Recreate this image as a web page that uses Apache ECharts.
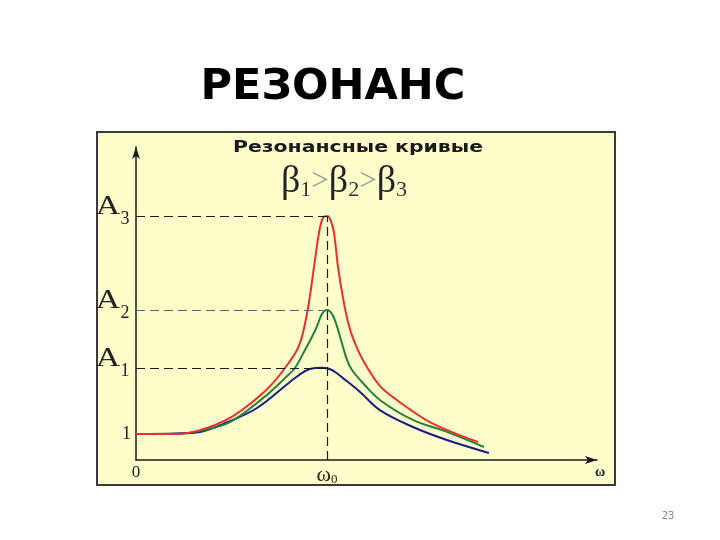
<!DOCTYPE html>
<html>
<head>
<meta charset="utf-8">
<script src="https://cdn.jsdelivr.net/npm/echarts@6.0.0/dist/echarts.min.js"></script>
<style>
  html, body { margin: 0; background: #fff; }
  #chart { width: 720px; height: 540px; }
</style>
</head>
<body>
<div id="chart"></div>
<script>
// resonance curves, omega in units of omega0, amplitude in units of static amplitude
const redOmega = [0, 0.204, 0.335, 0.492, 0.634, 0.712, 0.780, 0.843, 0.874, 0.906, 0.932, 0.958, 0.974, 0.990, 1.005, 1.021, 1.037, 1.058, 1.084, 1.110, 1.136, 1.188, 1.277, 1.366, 1.539, 1.791]
const redAmp = [1.00, 1.00, 1.15, 1.62, 2.38, 2.92, 3.54, 4.23, 4.88, 6.08, 7.42, 8.73, 9.23, 9.38, 9.38, 9.19, 8.73, 7.42, 6.23, 5.31, 4.69, 3.85, 2.85, 2.31, 1.46, 0.69]

const greenOmega = [0, 0.204, 0.335, 0.492, 0.665, 0.780, 0.832, 0.885, 0.921, 0.948, 0.974, 1.0, 1.026, 1.052, 1.073, 1.105, 1.131, 1.188, 1.277, 1.450, 1.628, 1.822]
const greenAmp = [1.00, 1.00, 1.12, 1.46, 2.38, 3.15, 3.54, 4.23, 4.73, 5.15, 5.62, 5.77, 5.62, 5.15, 4.62, 3.85, 3.46, 2.96, 2.31, 1.54, 1.08, 0.50]

const blueOmega = [0, 0.204, 0.335, 0.455, 0.634, 0.806, 0.885, 0.937, 0.974, 1.005, 1.040, 1.084, 1.173, 1.277, 1.450, 1.628, 1.848]
const blueAmp = [1.00, 1.02, 1.08, 1.38, 2.00, 3.00, 3.42, 3.54, 3.55, 3.52, 3.40, 3.15, 2.62, 1.92, 1.27, 0.77, 0.27]

// A1, A2, A3 levels
const levelAmp = [3.54, 5.77, 9.38]
const levelSub = ['1', '2', '3']

const xMax = 2.414
const yMax = 12.04

const zip = (xs, ys) => xs.map((x, i) => [x, ys[i]])

const dashStyle = { color: '#1a1a1a', width: 1.2, type: [9, 5] }

const markLines = levelAmp.map((a, i) => [
    { coord: [0, a], lineStyle: i === 1 ? { color: '#666', width: 1, type: [9, 5] } : dashStyle },
    { coord: [1, a] },
])
markLines.push([{ coord: [1, 0], lineStyle: dashStyle }, { coord: [1, levelAmp[2]] }])

const serif = '"Liberation Serif", "DejaVu Serif", serif'

const curve = (name, color, data, extra) => Object.assign({
    name,
    type: 'line',
    data,
    smooth: 0.35,
    symbol: 'none',
    lineStyle: { color, width: 2 },
    silent: true,
    animation: false,
}, extra)

const myChart = echarts.init(document.getElementById('chart'))

myChart.setOption({
    backgroundColor: '#fff',
    animation: false,
    grid: { left: 136, top: 147, right: 123, bottom: 80 },
    xAxis: {
        type: 'value',
        min: 0,
        max: xMax,
        interval: 1,
        axisLine: {
            lineStyle: { color: '#1a1a1a', width: 1.5 },
            symbol: ['none', 'arrow'],
            symbolSize: [6, 12],
        },
        axisTick: { show: false },
        splitLine: { show: false },
        axisLabel: {
            margin: 4,
            showMaxLabel: false,
            formatter(v) {
                if (v === 0) return '{n|0}'
                if (v === 1) return '{w|ω}{s|0}'
                return ''
            },
            rich: {
                n: { fontFamily: serif, fontSize: 17, color: '#222' },
                w: { fontFamily: serif, fontSize: 22, color: '#222' },
                s: { fontFamily: serif, fontSize: 13, color: '#222', verticalAlign: 'bottom' },
            },
        },
    },
    yAxis: {
        type: 'value',
        min: 0,
        max: yMax,
        interval: 1,
        axisLine: {
            show: true,
            lineStyle: { color: '#1a1a1a', width: 1.5 },
            symbol: ['none', 'arrow'],
            symbolSize: [6, 12],
        },
        axisTick: { show: false },
        splitLine: { show: false },
        axisLabel: {
            margin: 5,
            showMaxLabel: false,
            fontFamily: serif,
            fontSize: 18,
            color: '#222',
            formatter(v) { return v === 1 ? '1' : '' },
        },
    },
    series: [
        curve('β3', '#1c1c8a', zip(blueOmega, blueAmp)),
        curve('β2', '#228040', zip(greenOmega, greenAmp)),
        curve('β1', '#e8302e', zip(redOmega, redAmp), {
            markLine: {
                silent: true,
                symbol: 'none',
                label: { show: false },
                animation: false,
                data: markLines,
            },
        }),
    ],
})

// labels that follow the axes
const origin = myChart.convertToPixel({ gridIndex: 0 }, [0, 0])
const xEnd = myChart.convertToPixel({ gridIndex: 0 }, [xMax, 0])

const aLabels = []
levelAmp.forEach((a, i) => {
    const py = myChart.convertToPixel({ gridIndex: 0 }, [0, a])[1]
    aLabels.push({
        type: 'text',
        x: origin[0] - 28,
        y: py - 9,
        scaleX: 1.25,
        style: { text: 'A', fontFamily: serif, fontSize: 27, fill: '#222', textAlign: 'center', textVerticalAlign: 'middle' },
        z: 10,
    })
    aLabels.push({
        type: 'text',
        x: origin[0] - 11,
        y: py + 3,
        style: { text: levelSub[i], fontFamily: serif, fontSize: 18, fill: '#222', textAlign: 'center', textVerticalAlign: 'middle' },
        z: 10,
    })
})

myChart.setOption({
    graphic: [
        {
            type: 'rect',
            shape: { x: 97, y: 132, width: 518, height: 353 },
            style: { fill: '#ffffcc', stroke: '#3a3a3a', lineWidth: 2 },
            z: -10,
        },
        {
            type: 'text',
            x: 333,
            y: 88,
            style: { text: 'РЕЗОНАНС', fontFamily: '"DejaVu Sans", sans-serif', fontWeight: 'bold', fontSize: 43, fill: '#000', textAlign: 'center', textVerticalAlign: 'middle' },
        },
        {
            type: 'text',
            x: 358,
            y: 148,
            scaleX: 1.36,
            style: { text: 'Резонансные кривые', fontFamily: '"DejaVu Sans", sans-serif', fontWeight: 'bold', fontSize: 15, fill: '#1a1a1a', textAlign: 'center', textVerticalAlign: 'middle' },
            z: 10,
        },
        {
            type: 'text',
            x: 344,
            y: 182,
            style: {
                text: '{b|β}{s|1}{g|>}{b|β}{s|2}{g|>}{b|β}{s|3}',
                textAlign: 'center',
                textVerticalAlign: 'middle',
                rich: {
                    b: { fontFamily: serif, fontSize: 38, fill: '#222' },
                    s: { fontFamily: serif, fontSize: 22, fill: '#333', verticalAlign: 'bottom' },
                    g: { fontFamily: serif, fontSize: 31, fill: '#999' },
                },
            },
            z: 10,
        },
        ...aLabels,
        {
            type: 'text',
            x: xEnd[0] + 3,
            y: origin[1] + 12,
            style: { text: 'ω', fontFamily: serif, fontWeight: 'bold', fontSize: 14, fill: '#222', textAlign: 'center', textVerticalAlign: 'middle' },
            z: 10,
        },
        {
            type: 'text',
            x: 668,
            y: 516,
            style: { text: '23', fontFamily: '"DejaVu Sans", sans-serif', fontSize: 10, fill: '#888', textAlign: 'center', textVerticalAlign: 'middle' },
        },
    ],
})
</script>
</body>
</html>
